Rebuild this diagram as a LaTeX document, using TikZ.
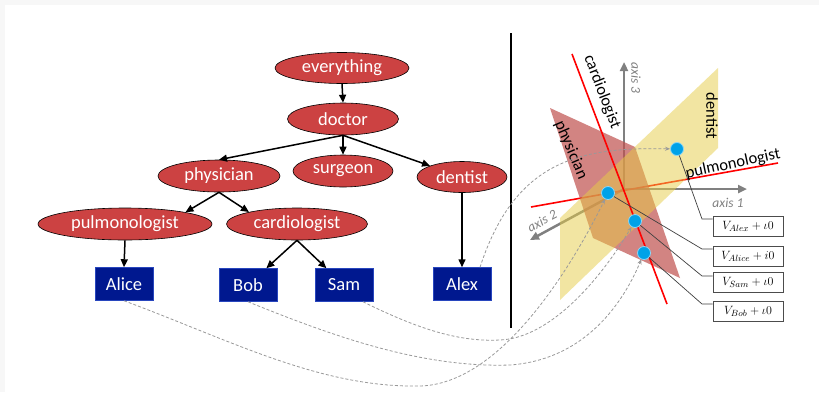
\documentclass[tikz,border=0pt]{standalone}
\usepackage{fontspec}
\setmainfont{Carlito}
\usetikzlibrary{arrows.meta,shapes.geometric,calc}
\definecolor{ellred}{RGB}{204,66,66}
\definecolor{navybox}{RGB}{0,24,143}
\definecolor{plpink}{RGB}{192,80,77}
\definecolor{plyellow}{RGB}{230,205,70}
\definecolor{dotblue}{RGB}{0,162,232}
\definecolor{axgray}{RGB}{128,128,128}
\begin{document}
\begin{tikzpicture}[x=1pt,y=-1pt,
  ell/.style={ellipse, draw=black, line width=0.6pt, fill=ellred, text=white, inner sep=0pt, font=\fontsize{18.5}{22}\selectfont},
  person/.style={rectangle, fill=navybox, draw={rgb,255:red,40;green,70;blue,190}, line width=0.5pt, text=white, minimum width=58pt, minimum height=33pt, inner sep=0pt, font=\fontsize{18.5}{22}\selectfont},
  tarrow/.style={line width=1.5pt, -{Triangle[length=8pt,width=7pt]}},
  axisline/.style={draw=axgray, line width=2.5pt, -{Triangle[length=9pt,width=8pt]}},
  axlab/.style={text=axgray, font=\fontsize{13.5}{15}\selectfont\itshape, inner sep=0pt},
  redline/.style={draw=red, line width=1.6pt},
  plab/.style={text=black, font=\fontsize{16.5}{19}\selectfont, inner sep=0pt},
  dot/.style={circle, fill=dotblue, draw=white!55!dotblue, line width=0.8pt, minimum size=13pt, inner sep=0pt},
  vbox/.style={rectangle, draw=gray!60!black, line width=0.8pt, fill=white, minimum width=70pt, minimum height=20pt, inner sep=0pt, font=\fontsize{13}{15}\selectfont},
  conn/.style={draw=black!75, line width=0.7pt},
  dcurve/.style={draw=gray!80, line width=0.8pt, dash pattern=on 3pt off 2pt, -{Stealth[length=5pt,width=4pt]}}
]
\useasboundingbox (0,0) rectangle (819,392);
\fill[black!3] (0,0) rectangle (819,392);
\fill[white] (5,5) rectangle (819,392);

% ---- tree ----
\node[ell, minimum width=134pt, minimum height=31pt] (everything) at (342,68) {everything};
\node[ell, minimum width=111pt, minimum height=32pt] (doctor) at (343,119) {doctor};
\node[ell, minimum width=122pt, minimum height=32pt] (physician) at (219,176) {physician};
\node[ell, minimum width=100pt, minimum height=32pt] (surgeon) at (343,171) {surgeon};
\node[ell, minimum width=90pt, minimum height=31pt] (dentist) at (462,177) {dentist};
\node[ell, minimum width=174pt, minimum height=32pt] (pulmonologist) at (125,224) {pulmonologist};
\node[ell, minimum width=141pt, minimum height=32pt] (cardiologist) at (297,224) {cardiologist};
\node[person] (Alice) at (124,284) {Alice};
\node[person] (Bob) at (248,285) {Bob};
\node[person] (Sam) at (344,285) {Sam};
\node[person] (Alex) at (462,284) {Alex};

\draw[tarrow] (everything.south) -- (doctor.north);
\draw[tarrow] (doctor.south) -- (physician.north);
\draw[tarrow] (doctor.south) -- (surgeon.north);
\draw[tarrow] (doctor.south) -- (dentist);
\draw[tarrow] (physician.south) -- (pulmonologist.11);
\draw[tarrow] (physician.south) -- (cardiologist.166);
\draw[tarrow] (pulmonologist.south) -- (Alice.north);
\draw[tarrow] (cardiologist.south) -- (Bob);
\draw[tarrow] (cardiologist.south) -- (Sam);
\draw[tarrow] (dentist.south) -- (Alex.north);

% ---- divider ----
\coordinate (divtop) at (511,33);
\coordinate (divbot) at (511,328);
\draw[line width=1.8pt] (divtop) -- (divbot);

% ---- 3D space ----
\coordinate (o) at (624,189);
\coordinate (ax3) at (624,62);
\coordinate (ax1) at (747,189);
\coordinate (ax2) at (530,240);
\draw[axisline] (o) -- (ax3);
\draw[axisline] (o) -- (ax1);
\draw[axisline] (o) -- (ax2);
\node[axlab, rotate=-90] at (636,78) {axis 3};
\node[axlab] at (728,203) {axis 1};
\node[axlab, rotate=28] at (542,221) {axis 2};

\coordinate (pl1) at (531,207);
\coordinate (pl2) at (778,163);
\draw[redline] (pl1) -- (pl2);

\fill[plpink, opacity=0.7] (550,108) -- (635,147) -- (680,278) -- (593,238) -- cycle;
\fill[plyellow, opacity=0.5] (718,68) -- (718,148) -- (560,300) -- (560,218) -- cycle;

\coordinate (cl1) at (572,54);
\coordinate (cl2) at (667,304);
\draw[redline] (cl1) -- (cl2);

\node[plab, rotate=-69] at (602,92) {cardiologist};
\node[plab, rotate=-67] at (571,150) {physician};
\node[plab, rotate=-90] at (712,116) {dentist};
\node[plab, rotate=12] at (733,164) {pulmonologist};

% dots
\node[dot] (dAlex) at (677,149) {};
\node[dot] (dAlice) at (608,193) {};
\node[dot] (dSam) at (635,221) {};
\node[dot] (dBob) at (644,253) {};

% dashed curves
\draw[dcurve] ([xshift=18pt]Alex.north) .. controls (515,160) and (580,147) .. (dAlex);
\draw[dcurve] (Alice.south) .. controls (230,340) and (320,388) .. (420,386) .. controls (500,384) and (570,270) .. (dAlice);
\draw[dcurve] ([xshift=19pt]Sam.south) .. controls (420,330) and (460,342) .. (500,340) .. controls (550,338) and (600,280) .. (dSam);
\draw[dcurve] (Bob.south) .. controls (330,335) and (420,368) .. (510,365) .. controls (580,360) and (620,310) .. (dBob);

% value boxes
\node[vbox] (bAlex) at (748,226) {$V_{Alex}+\iota0$};
\node[vbox] (bAlice) at (748,256) {$V_{Alice}+i0$};
\node[vbox] (bSam) at (748,282) {$V_{Sam}+\iota0$};
\node[vbox] (bBob) at (748,311) {$V_{Bob}+\iota0$};

\coordinate (eAlex) at (702,219);
\coordinate (eAlice) at (702,249);
\coordinate (eSam) at (702,276);
\coordinate (eBob) at (702,304);
\draw[conn] (dAlex) -- (eAlex) -- (eAlex -| bAlex.west);
\draw[conn] (dAlice) -- (eAlice) -- (eAlice -| bAlice.west);
\draw[conn] (dSam) -- (eSam) -- (eSam -| bSam.west);
\draw[conn] (dBob) -- (eBob) -- (eBob -| bBob.west);
\end{tikzpicture}
\end{document}
